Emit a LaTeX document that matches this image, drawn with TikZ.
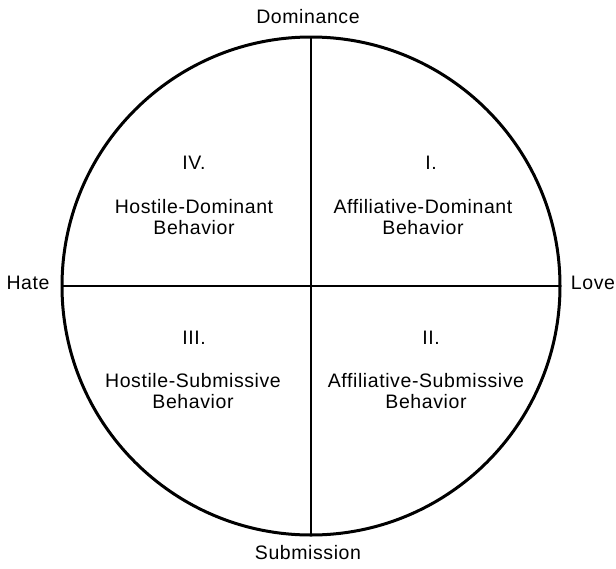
\documentclass[tikz,border=0pt]{standalone}
\usepackage{fontspec}
\setmainfont{Liberation Sans}[LetterSpace=3]
\begin{document}
\begin{tikzpicture}[x=1pt,y=-1pt,
  axis/.style={line width=2pt},
  rim/.style={line width=3pt},
  lbl/.style={font=\fontsize{19.5}{21}\selectfont, inner sep=0pt, anchor=base}]
  \useasboundingbox (0,0) rectangle (616,568);
  % circle and axes
  \coordinate (c) at (311,286);
  \coordinate (top) at (311,37);
  \coordinate (bot) at (311,535);
  \coordinate (lft) at (62,286);
  \coordinate (rgt) at (560,286);
  \draw[axis] (top) -- (bot);
  \draw[axis] (lft) -- (rgt);
  \draw[rim] (c) circle[radius=249];
  % pole labels
  \node[lbl] (dom) at (308,23) {Dominance};
  \node[lbl] (sub) at (308,559) {Submission};
  \node[lbl] (hate) at (28,289) {Hate};
  \node[lbl] (love) at (593,289) {Love};
  % quadrant IV
  \node[lbl] (q4) at (194,169) {IV.};
  \node[lbl] (q4a) at (194,213) {Hostile-Dominant};
  \node[lbl] (q4b) at (194,234) {Behavior};
  % quadrant I
  \node[lbl] (q1) at (431,169) {I.};
  \node[lbl] (q1a) at (423,213) {Affiliative-Dominant};
  \node[lbl] (q1b) at (423,234) {Behavior};
  % quadrant III
  \node[lbl] (q3) at (194,344) {III.};
  \node[lbl] (q3a) at (193,387) {Hostile-Submissive};
  \node[lbl] (q3b) at (193,408) {Behavior};
  % quadrant II
  \node[lbl] (q2) at (431,344) {II.};
  \node[lbl] (q2a) at (426,387) {Affiliative-Submissive};
  \node[lbl] (q2b) at (426,408) {Behavior};
\end{tikzpicture}
\end{document}
